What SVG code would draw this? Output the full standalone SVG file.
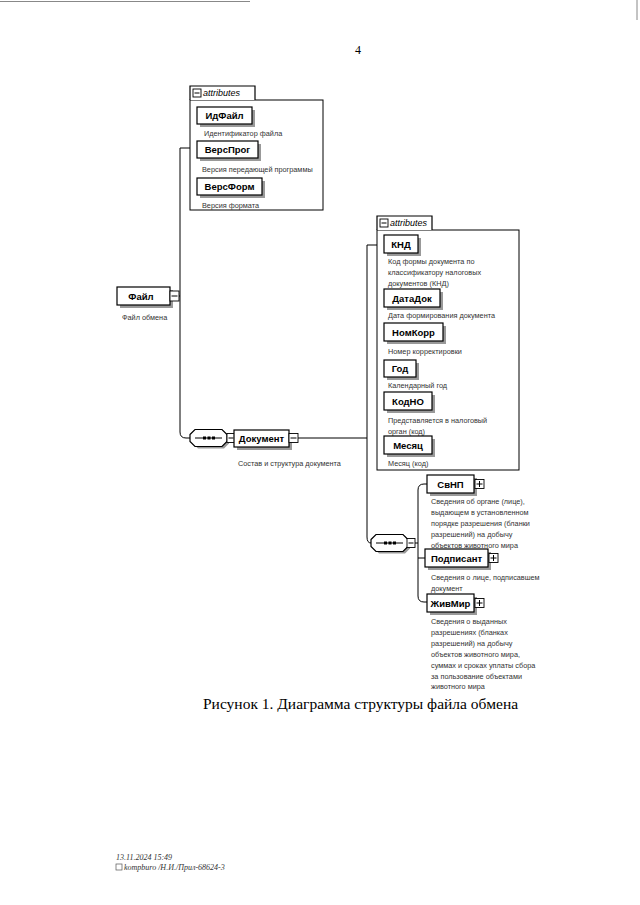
<svg xmlns="http://www.w3.org/2000/svg" width="640" height="905" viewBox="0 0 640 905">
<defs>
<style>
.bx{fill:#fff;stroke:#000;stroke-width:1.2}
.sh{fill:#999}
.lbl{font-family:"Liberation Sans",Arial,sans-serif;font-weight:bold;font-size:9.5px;fill:#000}
.ds{font-family:"Liberation Sans",Arial,sans-serif;font-size:7.3px;fill:#333}
.att{font-family:"Liberation Sans",Arial,sans-serif;font-style:italic;font-size:9px;fill:#000}
.ln{fill:none;stroke:#000;stroke-width:1}
.pm{fill:#fff;stroke:#000;stroke-width:0.9}
.cap{font-family:"Liberation Serif","Times New Roman",serif;font-size:15.5px;fill:#000}
.ft{font-family:"Liberation Serif","Times New Roman",serif;font-style:italic;font-size:8px;fill:#333}
</style>
<g id="seqsym">
<path d="M3,3 L6,0 L32,0 L37,5 L37,12 L32,17 L6,17 L3,14 Z" transform="translate(2,2)" class="sh"/>
<path d="M0,5 L5,0 L32,0 L37,5 L37,12 L32,17 L5,17 L0,12 Z" class="bx"/>
<line x1="5" y1="8.5" x2="32" y2="8.5" stroke="#000" stroke-width="1"/>
<rect x="13" y="7" width="3" height="3" fill="#000"/>
<rect x="17.5" y="7" width="3" height="3" fill="#000"/>
<rect x="22" y="7" width="3" height="3" fill="#000"/>
</g>
</defs>
<rect width="640" height="905" fill="#fff"/>
<line x1="0" y1="1.5" x2="250" y2="1.5" stroke="#888" stroke-width="1"/>
<line x1="637" y1="0" x2="637" y2="20" stroke="#888" stroke-width="1"/>
<text x="355" y="54" font-family="Liberation Serif,serif" font-size="12" fill="#000">4</text>

<g id="connectors">
<path class="ln" d="M179,296 H180"/>
<path class="ln" d="M190,148 H180 V432 Q180,438 186,438 H190"/>
<path class="ln" d="M227,438 H234"/>
<path class="ln" d="M298,438 H367"/>
<path class="ln" d="M377,245 H367 V537 Q367,543 371,543"/>
<path class="ln" d="M415,543 H418"/>
<path class="ln" d="M427,484 H424 Q418,484 418,490 V596 Q418,602 424,602 H427"/>
<path class="ln" d="M418,558 H425"/>
</g>

<g id="attributes1">
<rect x="190" y="100" width="133" height="110" fill="#fff" stroke="#000" stroke-width="1"/>
<path d="M190,100 V86 H255 V100" class="bx" stroke-width="1"/>
<rect x="193" y="89" width="8" height="8" class="pm"/>
<line x1="194.5" y1="93" x2="199.5" y2="93" stroke="#000"/>
<text x="203" y="96" class="att">attributes</text>
</g>
<g id="ИдФайл">
<rect x="200" y="110" width="55" height="17" class="sh"/>
<rect x="197" y="107" width="55" height="17" class="bx"/>
<text x="224.5" y="119" text-anchor="middle" class="lbl">ИдФайл</text>
<text x="204" y="136" class="ds">Идентификатор файла</text>
</g>
<g id="ВерсПрог">
<rect x="200" y="144" width="61" height="17" class="sh"/>
<rect x="197" y="141" width="61" height="17" class="bx"/>
<text x="227.5" y="153" text-anchor="middle" class="lbl">ВерсПрог</text>
<text x="202" y="172" class="ds">Версия передающей программы</text>
</g>
<g id="ВерсФорм">
<rect x="200" y="181" width="65" height="17" class="sh"/>
<rect x="197" y="178" width="65" height="17" class="bx"/>
<text x="229.5" y="190" text-anchor="middle" class="lbl">ВерсФорм</text>
<text x="202" y="208" class="ds">Версия формата</text>
</g>

<g id="Файл">
<rect x="120" y="290" width="53" height="18" class="sh"/>
<rect x="117" y="287" width="53" height="18" class="bx"/>
<text x="141" y="299.5" text-anchor="middle" class="lbl">Файл</text>
<rect x="170" y="291" width="9" height="10" class="pm"/>
<line x1="171.5" y1="296" x2="177.5" y2="296" stroke="#000"/>
<text x="122" y="320" class="ds">Файл обмена</text>
</g>

<g id="seq1">
<use href="#seqsym" x="190" y="429.5"/>
<rect x="227" y="433.5" width="8" height="9" class="pm"/>
<line x1="228.5" y1="438" x2="233.5" y2="438" stroke="#000"/>
</g>
<g id="Документ">
<rect x="237" y="433" width="55" height="17" class="sh"/>
<rect x="234" y="430" width="55" height="17" class="bx"/>
<text x="261.5" y="442" text-anchor="middle" class="lbl">Документ</text>
<rect x="289" y="433.5" width="9" height="9" class="pm"/>
<line x1="290.5" y1="438" x2="296.5" y2="438" stroke="#000"/>
<text x="238" y="466" class="ds">Состав и структура документа</text>
</g>

<g id="attributes2">
<rect x="377" y="230" width="142" height="240" fill="#fff" stroke="#000" stroke-width="1"/>
<path d="M377,230 V216 H432 V230" class="bx" stroke-width="1"/>
<rect x="380" y="219" width="8" height="8" class="pm"/>
<line x1="381.5" y1="223" x2="386.5" y2="223" stroke="#000"/>
<text x="390" y="226" class="att">attributes</text>
</g>
<g id="КНД">
<rect x="387" y="238" width="34" height="18" class="sh"/>
<rect x="384" y="235" width="34" height="18" class="bx"/>
<text x="401" y="247.5" text-anchor="middle" class="lbl">КНД</text>
<text x="388" y="264" class="ds">Код формы документа по</text>
<text x="388" y="275" class="ds">классификатору налоговых</text>
<text x="388" y="286" class="ds">документов (КНД)</text>
</g>
<g id="ДатаДок">
<rect x="387" y="292" width="56" height="18" class="sh"/>
<rect x="384" y="289" width="56" height="18" class="bx"/>
<text x="412" y="301.5" text-anchor="middle" class="lbl">ДатаДок</text>
<text x="388" y="318" class="ds">Дата формирования документа</text>
</g>
<g id="НомКорр">
<rect x="387" y="326" width="59" height="18" class="sh"/>
<rect x="384" y="323" width="59" height="18" class="bx"/>
<text x="413.5" y="335.5" text-anchor="middle" class="lbl">НомКорр</text>
<text x="388" y="354" class="ds">Номер корректировки</text>
</g>
<g id="Год">
<rect x="387" y="363" width="32" height="17" class="sh"/>
<rect x="384" y="360" width="32" height="17" class="bx"/>
<text x="400" y="372" text-anchor="middle" class="lbl">Год</text>
<text x="388" y="388" class="ds">Календарный год</text>
</g>
<g id="КодНО">
<rect x="387" y="395" width="48" height="18" class="sh"/>
<rect x="384" y="392" width="48" height="18" class="bx"/>
<text x="408" y="404.5" text-anchor="middle" class="lbl">КодНО</text>
<text x="388" y="423" class="ds">Представляется в налоговый</text>
<text x="388" y="434" class="ds">орган (код)</text>
</g>
<g id="Месяц">
<rect x="387" y="439" width="48" height="18" class="sh"/>
<rect x="384" y="436" width="48" height="18" class="bx"/>
<text x="408" y="448.5" text-anchor="middle" class="lbl">Месяц</text>
<text x="388" y="466" class="ds">Месяц (код)</text>
</g>

<g id="seq2">
<use href="#seqsym" x="371" y="534.5"/>
<rect x="407" y="538.5" width="8" height="9" class="pm"/>
<line x1="408.5" y1="543" x2="413.5" y2="543" stroke="#000"/>
</g>
<g id="СвНП">
<rect x="430" y="478" width="47" height="18" class="sh"/>
<rect x="427" y="475" width="47" height="18" class="bx"/>
<text x="450.5" y="487.5" text-anchor="middle" class="lbl">СвНП</text>
<rect x="475" y="479.5" width="9" height="9" class="pm"/>
<line x1="476.5" y1="484" x2="482.5" y2="484" stroke="#000"/>
<line x1="479.5" y1="481" x2="479.5" y2="487" stroke="#000"/>
<text x="431" y="504" class="ds">Сведения об органе (лице),</text>
<text x="431" y="515" class="ds">выдающем в установленном</text>
<text x="431" y="526" class="ds">порядке разрешения (бланки</text>
<text x="431" y="537" class="ds">разрешений) на добычу</text>
<text x="431" y="548" class="ds">объектов животного мира</text>
</g>
<g id="Подписант">
<rect x="428" y="552" width="63" height="18" class="sh"/>
<rect x="425" y="549" width="63" height="18" class="bx"/>
<text x="456.5" y="561.5" text-anchor="middle" class="lbl">Подписант</text>
<rect x="489" y="553.5" width="9" height="9" class="pm"/>
<line x1="490.5" y1="558" x2="496.5" y2="558" stroke="#000"/>
<line x1="493.5" y1="555" x2="493.5" y2="561" stroke="#000"/>
<text x="431" y="580" class="ds">Сведения о лице, подписавшем</text>
<text x="431" y="591" class="ds">документ</text>
</g>
<g id="ЖивМир">
<rect x="430" y="597" width="47" height="18" class="sh"/>
<rect x="427" y="594" width="47" height="18" class="bx"/>
<text x="450.5" y="606.5" text-anchor="middle" class="lbl">ЖивМир</text>
<rect x="475" y="598.5" width="9" height="9" class="pm"/>
<line x1="476.5" y1="603" x2="482.5" y2="603" stroke="#000"/>
<line x1="479.5" y1="600" x2="479.5" y2="606" stroke="#000"/>
<text x="431" y="624" class="ds">Сведения о выданных</text>
<text x="431" y="635" class="ds">разрешениях (бланках</text>
<text x="431" y="646" class="ds">разрешений) на добычу</text>
<text x="431" y="657" class="ds">объектов животного мира,</text>
<text x="431" y="668" class="ds">суммах и сроках уплаты сбора</text>
<text x="431" y="679" class="ds">за пользование объектами</text>
<text x="431" y="689" class="ds">животного мира</text>
</g>

<text x="203" y="709" class="cap">Рисунок 1. Диаграмма структуры файла обмена</text>

<text x="116" y="860" class="ft">13.11.2024 15:49</text>
<rect x="116" y="864" width="6" height="6" fill="none" stroke="#555" stroke-width="0.7"/>
<text x="124" y="870" class="ft">kompburo /Н.И./Прил-68624-3</text>
</svg>
